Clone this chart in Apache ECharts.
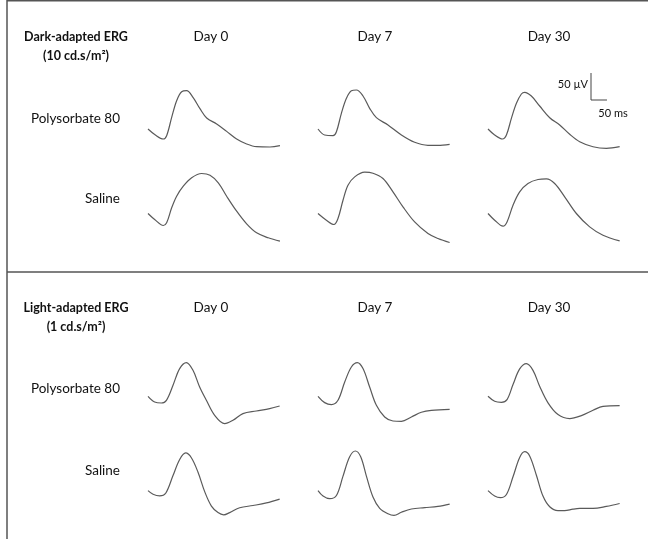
<!DOCTYPE html>
<html>
<head>
<meta charset="utf-8">
<script src="https://cdn.jsdelivr.net/npm/echarts@6/dist/echarts.min.js"></script>
<style>
  html, body { margin: 0; padding: 0; background: #fff; }
  #main { width: 648px; height: 539px; }
</style>
</head>
<body>
<div id="main"></div>
<script>
// ERG waveforms, [time ms, amplitude uV] relative to trace start
const days = ['Day 0', 'Day 7', 'Day 30'];
const groups = ['Polysorbate 80', 'Saline'];

// dark-adapted, Polysorbate 80
const darkPs80Day0 = [[0,0],[9.5,-10.6],[20.7,-18.5],[25.2,-12.4],[32,21.5],[38.7,52.4],[45.5,69.1],[52.2,70.9],[60.8,58.5],[70.2,37.6],[79.3,20.4],[92.8,9.3],[106.3,-4.4],[119.8,-18.5],[133.3,-27.8],[146.8,-32.8],[164.8,-33.3],[178.3,-30.9]];
const darkPs80Day7 = [[0,0],[9,-11.1],[20.3,-12.4],[24.9,-5],[31.6,29],[38.4,56.8],[45.1,70.8],[51.9,72.2],[60.8,61.1],[69.8,38.3],[78.9,21],[94.6,7.4],[112.7,-11.1],[130.6,-24.6],[148.6,-30.2],[162.1,-30.2],[177.9,-28.3]];
const darkPs80Day30 = [[0,0],[9,-11.1],[19.5,-18.5],[24.9,-11.1],[31.6,19.8],[38.4,47.6],[45.1,64.8],[49.6,67.9],[58.6,61.1],[69.8,42.6],[83.4,20.9],[96.9,7.4],[110.4,-9.8],[123.9,-23.5],[141.9,-32.8],[160,-35.8],[177.9,-32.8]];

// dark-adapted, Saline
const darkSalDay0 = [[0,0],[9,-11.1],[20.7,-22.2],[25.2,-17.3],[32,10.5],[38.7,32],[47.7,50.5],[59,66.1],[72.5,74.1],[83.8,71],[95,56.9],[106.3,32],[119.8,4.3],[133.3,-19.1],[146.8,-35.8],[162.5,-45],[178.3,-51.3]];
const darkSalDay7 = [[0,0],[11.3,-12.4],[21.6,-20.4],[27,-9.3],[33.8,24.6],[40.5,52.4],[49.6,67.8],[63.1,76.5],[74.3,74.6],[87.8,64.8],[101.3,40.1],[114.8,12.4],[130.6,-15.6],[148.6,-37],[162.1,-46.3],[177.9,-53.7]];
const darkSalDay30 = [[0,0],[9,-12.4],[20.3,-23.5],[25.7,-15.6],[33.8,15.4],[42.8,40.1],[54,55.6],[67.6,63],[78.9,64.1],[90.1,55.6],[103.6,30.9],[119.4,0],[137.4,-24.8],[155.4,-40.2],[177.9,-50.7]];

// light-adapted, Polysorbate 80
const lightPs80Day0 = [[0,0],[9,-10.6],[18.1,-12.4],[24.9,-7.4],[33.8,20.4],[42.8,51.3],[51.9,62.4],[60.8,48.1],[69.8,17.2],[78.9,-7.4],[90.1,-35.2],[103.6,-50.6],[114.8,-44.4],[128.3,-32],[146.4,-27.2],[164.4,-22.8],[177.9,-18]];
const lightPs80Day7 = [[0,0],[9,-11.7],[18.1,-15.4],[27,-7.4],[36.1,26.5],[45.1,54.3],[53.2,62.4],[60.8,51.3],[69.8,17.2],[78.9,-16.7],[90.1,-38.3],[101.3,-45.7],[112.7,-46.3],[126.2,-38.3],[139.7,-29.6],[153.2,-25.9],[177.9,-24.1]];
const lightPs80Day30 = [[0,0],[9,-9.3],[18.1,-11.1],[25.7,-6.1],[33.8,21.7],[42.8,50.7],[51.9,60.5],[60.8,48.1],[69.8,18.5],[81.1,-12.2],[94.6,-33.9],[110.4,-41.3],[126.2,-35.8],[141.9,-25.9],[155.4,-18.5],[177.9,-17.2]];

// light-adapted, Saline
const lightSalDay0 = [[0,0],[6.8,-6.9],[15.8,-10],[23.9,-5],[33.8,28.9],[42.8,59.8],[50.9,72.2],[58.6,63],[67.6,35.2],[76.6,-1.9],[85.7,-29.6],[94.6,-42],[102.3,-46.3],[110.4,-42],[123.9,-32.8],[141.9,-28.5],[160,-23.5],[177.9,-16.1]];
const lightSalDay7 = [[0,0],[6.8,-10.4],[15.8,-15.4],[24.9,-9.3],[33.8,27.8],[42.8,64.8],[50.5,75.9],[57.7,64.8],[65.4,27.8],[74.3,-12.2],[83.4,-33.9],[94.6,-44.4],[102.7,-47.4],[112.7,-41.3],[126.2,-35.2],[144.2,-32.6],[162.1,-30.2],[177.9,-25.9]];
const lightSalDay30 = [[0,0],[9,-10.4],[16.7,-13.5],[24.9,-7.4],[33.8,26.5],[42.8,63.5],[49.6,74.6],[56.3,66.5],[65.4,29.5],[74.3,-10.4],[83.4,-30.9],[94.6,-38.3],[103.6,-38.3],[114.8,-35.4],[123.9,-34.1],[141.9,-34.1],[160,-30.2],[177.9,-24.6]];

// scale bar: 50 uV / 50 ms
const scaleBar = [[0, 50], [0, 0], [50, 0]];

const traces = [
  [darkPs80Day0, darkPs80Day7, darkPs80Day30],
  [darkSalDay0, darkSalDay7, darkSalDay30],
  [lightPs80Day0, lightPs80Day7, lightPs80Day30],
  [lightSalDay0, lightSalDay7, lightSalDay30]
];

// layout (pixels)
const rowBase = [129, 213.5, 396.3, 492.3];
const colLeft = [148, 318, 488];
const uvPerPx = 50 / 27;
const msPerPx = 50 / 37;
const traceW = 132, halfH = 50;

const grid = [], xAxis = [], yAxis = [], series = [];
function addPanel(left, base, data) {
  const i = grid.length;
  grid.push({ left: left, top: base - halfH, width: traceW, height: halfH * 2 });
  xAxis.push({ type: 'value', gridIndex: i, min: 0, max: traceW * msPerPx, show: false });
  yAxis.push({ type: 'value', gridIndex: i, min: -halfH * uvPerPx, max: halfH * uvPerPx, show: false });
  series.push({
    type: 'line', xAxisIndex: i, yAxisIndex: i, data: data,
    smooth: 0.35, showSymbol: false, silent: true,
    lineStyle: { color: '#5a5a5a', width: 1.2 }
  });
}
traces.forEach((row, r) => row.forEach((d, c) => addPanel(colLeft[c], rowBase[r], d)));
addPanel(591, 100, scaleBar);
series[series.length - 1].smooth = false;
series[series.length - 1].lineStyle = { color: '#444', width: 1 };

const font = 'Lato, "Open Sans", sans-serif';
function txt(x, y, s, opt) {
  return {
    type: 'text', x: x, y: y, silent: true,
    style: Object.assign({ text: s, fill: '#111', font: '13.5px ' + font, align: 'center', verticalAlign: 'middle' }, opt || {})
  };
}
function line(x1, y1, x2, y2) {
  return { type: 'line', silent: true, shape: { x1, y1, x2, y2 }, style: { stroke: '#555', lineWidth: 1.5 } };
}

const dayX = [211, 375, 549];
const boldFont = 'bold 12.5px ' + font;
const graphic = [
  line(7, 0.75, 648, 0.75), line(7, 0, 7, 539), line(7, 272, 648, 272),
  txt(76, 37, 'Dark-adapted ERG', { font: boldFont }),
  txt(76, 56, '(10 cd.s/m²)', { font: boldFont }),
  txt(76, 308, 'Light-adapted ERG', { font: boldFont }),
  txt(76, 327, '(1 cd.s/m²)', { font: boldFont }),
  txt(120, 119, groups[0], { align: 'right' }),
  txt(120, 199, groups[1], { align: 'right' }),
  txt(120, 389, groups[0], { align: 'right' }),
  txt(120, 471, groups[1], { align: 'right' }),
  txt(588, 84, '50 µV', { align: 'right', font: '11px ' + font }),
  txt(613, 113, '50 ms', { font: '11px ' + font })
];
days.forEach((d, c) => {
  graphic.push(txt(dayX[c], 37, d));
  graphic.push(txt(dayX[c], 308, d));
});

const chart = echarts.init(document.getElementById('main'));
chart.setOption({
  animation: false,
  backgroundColor: '#fff',
  grid: grid, xAxis: xAxis, yAxis: yAxis, series: series,
  graphic: graphic
});
</script>
</body>
</html>
